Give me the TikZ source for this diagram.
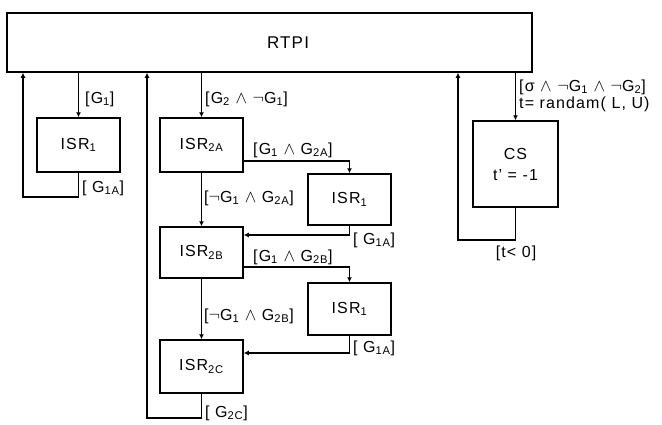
\documentclass[tikz,border=0pt]{standalone}
\usepackage{fontspec}
\setmainfont{Liberation Sans}[LetterSpace=7]
\usetikzlibrary{arrows.meta}
\newcommand{\isr}[1]{ISR\textsubscript{#1}}
\newcommand{\grd}[1]{G\textsubscript{#1}}
\newcommand{\statebox}[6]{\node[box, minimum width={(#4-#2)*1pt}, minimum height={(#5-#3)*1pt}] (#1) at ({(#2+#4)/2},{(#3+#5)/2}) {#6};}
\tikzset{
  box/.style={draw, line width=1.5pt, inner sep=0pt, align=center},
  flow/.style={line width=1.3pt, -{Latex[length=5pt,width=5pt]}},
  guard/.style={anchor=west, inner sep=0pt, font=\fontsize{16}{17}\selectfont},
}

\begin{document}
\begin{tikzpicture}[x=1pt, y=-1pt, font=\fontsize{16}{21}\selectfont]
  \useasboundingbox (0,0) rectangle (662,424);
  % states, by corners (pixel grid, y down)
  \statebox{rtpi}{7}{13}{532}{72}{}
  \node[font=\fontsize{17}{20}\selectfont] (rtpiText) at (288,42.5) {RTPI};
  \statebox{isrOne}{37}{118}{120}{172}{\isr{1}}
  \statebox{isrTwoA}{160}{118}{243}{172}{\isr{2A}}
  \statebox{isrOneA}{308}{174}{391}{225}{\isr{1}}
  \statebox{isrTwoB}{160}{227}{243}{278}{\isr{2B}}
  \statebox{isrOneB}{308}{283}{391}{335}{\isr{1}}
  \statebox{isrTwoC}{160}{340}{243}{393}{\isr{2C}}
  \statebox{cs}{473}{121}{558}{207}{CS\\t' = -1}
  % return points
  \coordinate (retOne) at (23,197);
  \coordinate (retTwo) at (147,418);
  \coordinate (retCs) at (458,240);
  % ISR1 branch
  \draw[flow] (rtpi.south -| isrOne.north) -- (isrOne.north);
  \node[guard] (gOne) at (85,99) {[\grd{1}]};
  \draw[flow] (isrOne.south) |- (retOne) -- (retOne |- rtpi.south);
  \node[guard] (gOneRet) at (82,188) {[ \grd{1A}]};
  % ISR2 chain
  \draw[flow] (rtpi.south -| isrTwoA.north) -- (isrTwoA.north);
  \node[guard] (gTwo) at (205,99) {[\grd{2} $\wedge$ $\neg$\grd{1}]};
  \draw[flow] ([yshift=-16pt]isrTwoA.east) -| (isrOneA.north);
  \node[guard] (gTwoA) at (253,150) {[\grd{1} $\wedge$ \grd{2A}]};
  \draw[flow] (isrOneA.south) |- ([yshift=17.5pt]isrTwoB.east);
  \node[guard] (gOneA) at (353,240) {[ \grd{1A}]};
  \draw[flow] (isrTwoA) -- (isrTwoB);
  \node[guard] (gNotA) at (204,198) {[$\neg$\grd{1} $\wedge$ \grd{2A}]};
  \draw[flow] ([yshift=-14.5pt]isrTwoB.east) -| (isrOneB.north);
  \node[guard] (gTwoB) at (253,257) {[\grd{1} $\wedge$ \grd{2B}]};
  \draw[flow] (isrOneB.south) |- ([yshift=13.5pt]isrTwoC.east);
  \node[guard] (gOneB) at (353,348) {[ \grd{1A}]};
  \draw[flow] (isrTwoB) -- (isrTwoC);
  \node[guard] (gNotB) at (204,316) {[$\neg$\grd{1} $\wedge$ \grd{2B}]};
  \draw[flow] (isrTwoC.south) |- (retTwo) -- (retTwo |- rtpi.south);
  \node[guard] (gTwoC) at (205,413) {[ \grd{2C}]};
  % CS branch
  \draw[flow] (rtpi.south -| cs.north) -- (cs.north);
  \node[guard, align=left] (gCs) at (519,95.5) {[σ $\wedge$ $\neg$\grd{1} $\wedge$ $\neg$\grd{2}]\\t= randam( L, U)};
  \draw[flow] (cs.south) |- (retCs) -- (retCs |- rtpi.south);
  \node[guard, anchor=center] (gCsRet) at (516,253) {[t< 0]};
\end{tikzpicture}
\end{document}
